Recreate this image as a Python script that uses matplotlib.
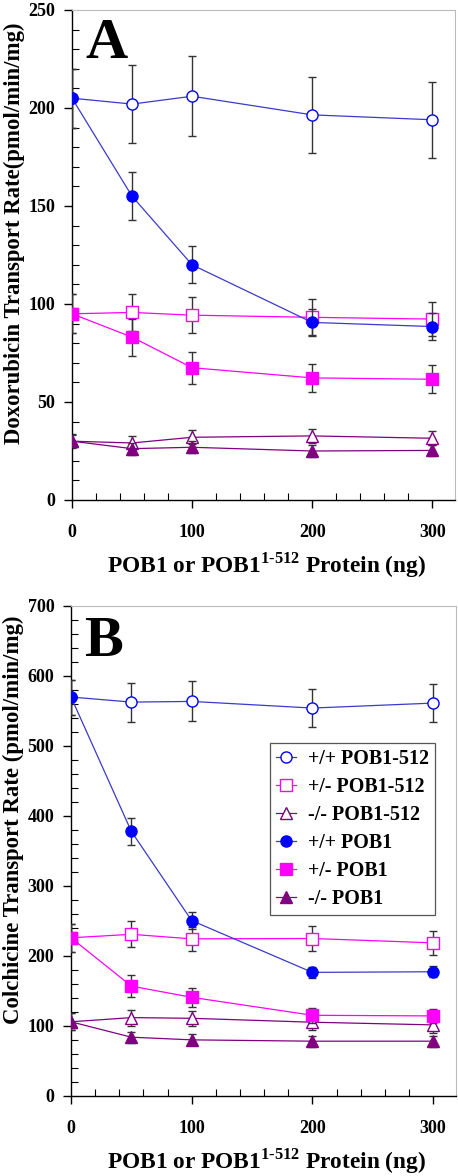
import numpy as np
from matplotlib import pyplot as plt
from matplotlib.ticker import MultipleLocator

# ==============================================================================
#                                                                           DATA
# ==============================================================================
dose = [0, 50, 100, 200, 300]

labels = ["+/+ POB1-512", "+/- POB1-512", "-/- POB1-512",
          "+/+ POB1", "+/- POB1", "-/- POB1"]

# Panel A - doxorubicin
dox_wt_512 = [205, 202, 206, 196.5, 194]
dox_wt_512_err = [15, 20, 20.5, 19.5, 19.5]
dox_het_512 = [95, 95.7, 94.3, 93.2, 92.3]
dox_het_512_err = [10, 9.5, 9.3, 9.2, 8.8]
dox_ko_512 = [30, 29.1, 32, 32.7, 31.5]
dox_ko_512_err = [3.5, 3.5, 3.5, 3.5, 3.5]
dox_wt = [205, 155, 120, 90.6, 88.5]
dox_wt_err = [15, 12.3, 9.5, 6.7, 6.8]
dox_het = [95, 83.1, 67.5, 62.3, 61.6]
dox_het_err = [10, 9.5, 8.2, 7.3, 7.2]
dox_ko = [30, 26.2, 26.9, 25, 25.3]
dox_ko_err = [3, 3, 3, 3, 3]

# Panel B - colchicine
col_wt_512 = [570, 562.7, 563.7, 554.2, 561.3]
col_wt_512_err = [25, 28, 28.5, 27.5, 27.5]
col_het_512 = [226, 231, 224.5, 225, 218.8]
col_het_512_err = [20, 18.3, 17.5, 18, 17.5]
col_ko_512 = [106, 112, 111, 105.4, 101.6]
col_ko_512_err = [12, 11.4, 11, 11, 11]
col_wt = [570, 378, 250.6, 176.6, 177.5]
col_wt_err = [25, 19, 12, 8, 8]
col_het = [226, 157, 141, 115.3, 114.4]
col_het_err = [20, 15.7, 13.3, 11, 10.5]
col_ko = [106, 84, 80.2, 78.3, 78.3]
col_ko_err = [12, 8, 8, 8, 8]

# ==============================================================================
#                                                                          STYLE
# ==============================================================================
plt.rcParams['font.family'] = ['Liberation Serif', 'DejaVu Serif']
plt.rcParams['font.weight'] = 'bold'
plt.rcParams['mathtext.fontset'] = 'custom'
plt.rcParams['mathtext.rm'] = 'Liberation Serif:bold'
plt.rcParams['mathtext.bf'] = 'Liberation Serif:bold'

BLUE_LINE = "#3a3acc"
BLUE = "#0000ff"
MAGENTA = "#ff00ff"
PURPLE = "#800080"

# (color, line color, marker, filled)
styles = [(BLUE, BLUE_LINE, "o", False),
          (MAGENTA, MAGENTA, "s", False),
          (PURPLE, PURPLE, "^", False),
          (BLUE, BLUE_LINE, "o", True),
          (MAGENTA, MAGENTA, "s", True),
          (PURPLE, PURPLE, "^", True)]


def draw_panel(ax, series, errs, ymax, ymajor, yminor, ylabel, letter,
               ylab_y, letter_y):
    for (col, lcol, mk, filled), y, e, lab in zip(styles, series, errs, labels):
        ax.errorbar(dose, y, yerr=e, color=lcol, lw=0.9,
                    marker=mk, ms=8 if mk != "^" else 9,
                    mfc=col if filled else "white", mec=col, mew=1.0,
                    ecolor="#333333", elinewidth=1.0, capsize=2.8,
                    capthick=1.0, label=lab, zorder=3 if filled else 2)
    ax.set_xlim(0, 319)
    ax.set_ylim(0, ymax)
    ax.xaxis.set_major_locator(MultipleLocator(100))
    ax.xaxis.set_minor_locator(MultipleLocator(20))
    ax.yaxis.set_major_locator(MultipleLocator(ymajor))
    ax.yaxis.set_minor_locator(MultipleLocator(yminor))
    ax.tick_params(axis="both", which="major", direction="out", length=6,
                   width=1, labelsize=13, colors="black")
    ax.tick_params(axis="x", which="major", pad=11)
    ax.tick_params(axis="y", which="major", pad=6)
    ax.tick_params(axis="both", which="minor", direction="in", length=5,
                   width=0.8)
    for s in ["top", "right"]:
        ax.spines[s].set_color("#bbbbbb")
    for s in ["left", "bottom"]:
        ax.spines[s].set_color("black")
        ax.spines[s].set_linewidth(1.0)
    ax.set_xlabel(r"POB1 or POB1$^{1\text{-}512}$ Protein (ng)",
                  fontsize=16.8, fontweight="bold", va="baseline")
    ax.xaxis.set_label_coords(0.509, -0.148)
    ax.set_ylabel(ylabel, fontsize=16.4, fontweight="bold", va="center")
    ax.yaxis.set_label_coords(-0.15, ylab_y)
    ax.text(0.034, letter_y, letter, transform=ax.transAxes, fontsize=42,
            fontweight="bold", va="baseline", ha="left")


fig = plt.figure(figsize=(4.58, 11.76), dpi=100)
axA = fig.add_axes([72 / 458, 1 - 500 / 1176, 383 / 458, 490 / 1176])
axB = fig.add_axes([71 / 458, 1 - 1096 / 1176, 385 / 458, 490 / 1176])

draw_panel(axA,
           [dox_wt_512, dox_het_512, dox_ko_512, dox_wt, dox_het, dox_ko],
           [dox_wt_512_err, dox_het_512_err, dox_ko_512_err,
            dox_wt_err, dox_het_err, dox_ko_err],
           250, 50, 10, "Doxorubicin Transport Rate(pmol/min/mg)", "A",
           0.545, 0.902)

draw_panel(axB,
           [col_wt_512, col_het_512, col_ko_512, col_wt, col_het, col_ko],
           [col_wt_512_err, col_het_512_err, col_ko_512_err,
            col_wt_err, col_het_err, col_ko_err],
           700, 100, 20, "Colchicine Transport Rate (pmol/min/mg)", "B",
           0.563, 0.898)

handles, labs = axB.get_legend_handles_labels()
handles = [h[0] for h in handles]
leg = axB.legend(handles, labs, loc="upper left",
                 bbox_to_anchor=(0.517, 0.720), frameon=True,
                 fancybox=False, edgecolor="#555555", framealpha=1,
                 handlelength=1.0, handletextpad=0.6, labelspacing=0.4,
                 borderpad=0.3, borderaxespad=0,
                 prop={"weight": "bold", "size": 14.4})
leg.get_frame().set_linewidth(0.9)

fig.savefig("out.png", dpi=100)
